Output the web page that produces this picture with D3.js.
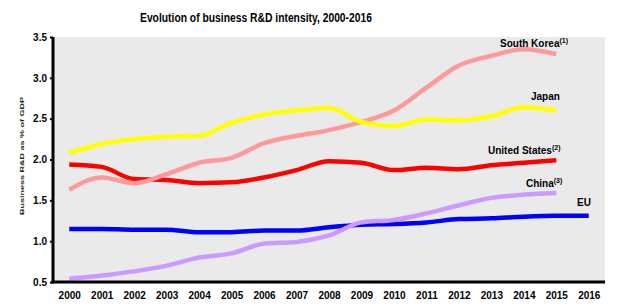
<!DOCTYPE html>
<html>
<head>
<meta charset="utf-8">
<script src="https://cdn.jsdelivr.net/npm/d3@7"></script>
<style>
  body { margin: 0; background: #fff; }
  svg text { font-family: "Liberation Sans", Arial, sans-serif; }
</style>
</head>
<body>
<div id="chart"></div>
<script>
const years = d3.range(2000, 2017).map(String);
const yTicks = [0.5, 1.0, 1.5, 2.0, 2.5, 3.0, 3.5];

const southKorea = [1.63, 1.78, 1.71, 1.82, 1.96, 2.02, 2.20, 2.29, 2.36, 2.46, 2.60, 2.88, 3.15, 3.27, 3.35, 3.29];
const japan = [2.08, 2.19, 2.25, 2.28, 2.29, 2.45, 2.55, 2.60, 2.63, 2.46, 2.41, 2.49, 2.48, 2.53, 2.64, 2.60];
const unitedStates = [1.94, 1.91, 1.76, 1.75, 1.71, 1.72, 1.78, 1.87, 1.98, 1.96, 1.87, 1.90, 1.88, 1.93, 1.96, 1.99];
const china = [0.54, 0.58, 0.63, 0.70, 0.80, 0.85, 0.97, 0.99, 1.07, 1.23, 1.26, 1.34, 1.44, 1.53, 1.57, 1.59];
const eu = [1.15, 1.15, 1.14, 1.14, 1.11, 1.11, 1.13, 1.13, 1.17, 1.20, 1.21, 1.23, 1.27, 1.28, 1.30, 1.31, 1.31];

const series = [
    { name: 'EU', note: '', values: eu, color: '#0000ff' },
    { name: 'China', note: '(3)', values: china, color: '#cc99ff' },
    { name: 'United States', note: '(2)', values: unitedStates, color: '#ff0000' },
    { name: 'South Korea', note: '(1)', values: southKorea, color: '#ff9999' },
    { name: 'Japan', note: '', values: japan, color: '#ffff00' }
];

// label anchor: year index + offsets (in px) relative to last point
const labelPos = {
    'South Korea': { x: 500, y: 46.5 },
    'Japan': { x: 531, y: 100 },
    'United States': { x: 488, y: 154 },
    'China': { x: 526, y: 187 },
    'EU': { x: 577, y: 206 }
};

const width = 618, height = 307;
const margin = { top: 37, right: 13, bottom: 25, left: 53 };
const innerW = width - margin.left - margin.right;
const innerH = height - margin.top - margin.bottom;

const svg = d3.select('#chart').append('svg')
    .attr('width', width)
    .attr('height', height);

svg.append('text')
    .attr('x', 256)
    .attr('y', 22)
    .attr('text-anchor', 'middle')
    .attr('font-size', 12.5)
    .attr('font-weight', 'bold')
    .attr('textLength', 232)
    .attr('lengthAdjust', 'spacingAndGlyphs')
    .text('Evolution of business  R&D intensity, 2000-2016');

// garbled vertical axis title
svg.append('text')
    .attr('transform', 'translate(24,156) rotate(-90)')
    .attr('text-anchor', 'middle')
    .attr('font-size', 6)
    .attr('font-weight', 'bold')
    .attr('fill', '#1c2a12')
    .attr('textLength', 118)
    .attr('lengthAdjust', 'spacingAndGlyphs')
    .text('Business R&D as % of GDP');

const chart = svg.append('g')
    .attr('transform', `translate(${margin.left},${margin.top})`);

chart.append('rect')
    .attr('width', innerW)
    .attr('height', innerH)
    .attr('fill', '#eaeaea');

const x = d3.scalePoint()
    .domain(years)
    .range([0, innerW])
    .padding(0.5);

const y = d3.scaleLinear()
    .domain([0.5, 3.5])
    .range([innerH, 0]);

const line = d3.line()
    .x((d, i) => x(years[i]))
    .y(d => y(d))
    .curve(d3.curveMonotoneX);

chart.selectAll('.series')
    .data(series)
    .enter().append('path')
    .attr('class', 'series')
    .attr('fill', 'none')
    .attr('stroke', d => d.color)
    .attr('stroke-width', 4.5)
    .attr('d', d => line(d.values));

// axes
const yAxis = d3.axisLeft(y)
    .tickValues(yTicks)
    .tickSize(3)
    .tickPadding(3)
    .tickFormat(d3.format('.1f'));

const gy = chart.append('g').call(yAxis);
gy.select('.domain').remove();
gy.selectAll('.tick line').attr('stroke', '#000').attr('stroke-width', 2);
gy.selectAll('.tick text')
    .attr('font-size', 10)
    .attr('font-weight', 'bold')
    .attr('fill', '#000')
    .attr('font-family', '"Liberation Sans", Arial, sans-serif');

const xAxis = d3.axisBottom(x).tickSize(0).tickPadding(10);
const gx = chart.append('g')
    .attr('transform', `translate(0,${innerH})`)
    .call(xAxis);
gx.select('.domain').remove();
gx.selectAll('.tick text')
    .attr('font-size', 10)
    .attr('font-weight', 'bold')
    .attr('fill', '#000')
    .attr('font-family', '"Liberation Sans", Arial, sans-serif');

chart.append('line')
    .attr('x1', 0).attr('x2', 0)
    .attr('y1', 0).attr('y2', innerH + 1.5)
    .attr('stroke', '#000').attr('stroke-width', 3);
chart.append('line')
    .attr('x1', -1.5).attr('x2', innerW)
    .attr('y1', innerH).attr('y2', innerH)
    .attr('stroke', '#000').attr('stroke-width', 3);

// series labels
series.forEach(s => {
    const p = labelPos[s.name];
    const t = svg.append('text')
        .attr('x', p.x)
        .attr('y', p.y)
        .attr('font-size', 10)
        .attr('font-weight', 'bold')
        .attr('fill', '#000')
        .text(s.name);
    if (s.note) {
        t.append('tspan')
            .attr('dy', -4)
            .attr('font-size', 7)
            .text(s.note);
    }
});
</script>
</body>
</html>
